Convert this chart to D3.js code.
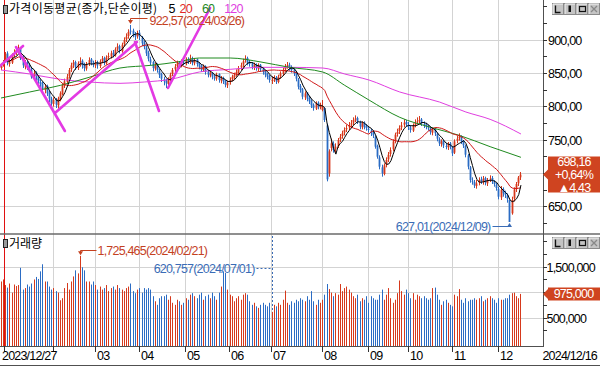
<!DOCTYPE html>
<html>
<head>
<meta charset="utf-8">
<script src="https://cdn.jsdelivr.net/npm/d3@7"></script>
<style>
  body { margin: 0; background: #fff; }
  svg { display: block; }
  .num { font-family: "Liberation Sans", Arial, sans-serif; font-size: 12.5px; letter-spacing: -0.8px; }
  .kr { font-family: "Noto Sans CJK KR", "Noto Sans", sans-serif; font-size: 12px; }
</style>
</head>
<body>
<div id="chart"></div>
<script>
// ---- daily candles, 2023/12/27 .. 2024/12/16 (trading days) ----
var opens = [858,862,
  868,880,864,866,879,881,886,888,874,860,867,861,856,846,851,842,837,835,825,831,821,812,
  804,811,802,811,819,831,837,846,856,863,867,858,866,869,863,857,865,871,865,
  862,867,861,869,873,865,875,875,881,877,887,891,883,894,901,906,914,914,907,906,
  911,904,896,889,881,871,867,857,863,854,849,841,839,834,841,849,856,861,866,861,869,
  865,871,867,873,865,871,865,861,855,861,853,847,851,844,842,849,839,843,839,832,
  837,841,844,849,851,859,863,870,873,867,865,859,863,857,863,857,853,849,846,
  839,841,844,837,846,849,856,861,863,859,856,851,841,831,826,814,821,813,809,803,797,806,799,
  795,798,772,700,738,744,736,741,751,756,761,766,769,773,776,781,783,777,769,776,771,
  767,764,761,755,741,724,709,699,713,721,729,736,749,759,763,769,773,777,
  773,769,764,773,777,779,781,774,773,769,767,761,766,759,751,744,749,741,739,745,
  739,731,749,753,754,747,741,727,709,689,687,681,686,691,687,693,685,691,693,687,683,
  677,664,676,671,667,660,640,662,677,685,694];
var highs = [865,870,
  882,883,872,880,886,890,893,889,876,870,869,865,858,855,853,846,841,838,834,833,824,815,
  814,813,815,823,835,842,849,858,866,870,869,868,874,871,866,867,874,873,869,
  870,869,871,876,875,877,881,884,885,889,895,893,896,904,910,916,922.57,917,912,914,
  915,906,899,892,884,875,869,866,865,857,851,845,842,844,851,858,864,869,868,871,872,
  874,874,878,875,873,872,867,863,863,862,855,854,852,848,851,850,846,845,840,839,
  844,848,851,856,861,866,872,877,875,870,867,866,865,865,864,859,855,851,848,
  845,847,846,848,853,858,864,867,866,862,858,853,843,834,828,823,822,816,811,805,808,808,806,
  810,799,775,736,752,748,745,753,759,764,769,773,777,780,784,787,785,779,778,778,774,
  771,767,764,757,743,727,713,715,724,732,739,751,761,767,772,777,781,780,
  777,772,775,781,784,786,783,778,776,773,770,768,768,761,754,751,750,745,747,747,
  741,751,756,760,757,750,743,729,711,694,690,690,694,695,696,695,693,697,696,690,686,
  680,681,679,674,670,661,665,679,687,696,702];
var lows = [855,860,
  866,862,860,864,874,877,880,870,858,856,855,852,842,841,836,833,829,822,820,816,807,799,
  800,798,797,808,817,828,834,842,852,858,855,855,860,857,853,854,861,862,859,
  858,857,858,865,862,863,871,872,874,875,883,880,881,890,897,902,908,904,900,902,
  900,891,886,876,868,862,853,854,851,843,837,832,828,831,838,846,852,857,858,859,862,
  862,864,864,862,862,860,856,852,852,848,844,844,841,839,839,836,835,834,829,828,
  833,838,841,845,849,855,859,866,862,860,856,855,854,853,852,848,844,841,836,
  834,837,834,835,842,846,852,857,854,851,846,838,826,821,811,810,808,804,798,794,795,796,796,
  793,777,688,695,733,731,731,738,747,752,757,762,765,769,772,777,774,766,766,766,764,
  761,756,753,737,722,706,695,697,709,717,725,733,745,755,759,765,769,770,
  765,761,762,769,773,775,771,768,766,764,758,757,756,748,741,740,738,736,735,736,
  726,729,745,749,744,738,724,706,686,683,678,677,682,684,683,682,681,687,684,680,674,
  661,660,665,663,656,627.01,638,658,672,681,690];
var closes = [862,867,
  879,866,867,878,880,885,887,873,862,866,860,857,845,850,840,838,834,826,830,820,812,805,
  810,803,812,820,832,838,845,855,862,866,860,865,868,862,858,864,870,866,863,
  866,862,868,872,866,874,876,880,878,886,890,884,893,900,905,912,913,908,905,910,
  905,895,890,880,872,866,858,862,855,848,842,838,835,840,848,855,860,865,862,868,866,
  870,868,872,866,870,864,860,856,860,852,848,850,845,843,848,840,842,838,833,836,
  840,845,848,852,858,862,868,872,866,864,860,862,858,862,856,852,848,845,840,
  840,843,838,845,850,855,860,862,858,855,850,842,830,825,815,820,812,808,802,798,805,800,803,
  800,780,691,733,745,735,740,750,755,760,765,768,772,775,780,782,778,770,775,770,768,
  765,760,757,740,725,710,700,712,720,728,735,748,758,762,768,772,776,774,
  770,765,772,776,778,780,775,772,770,768,762,765,760,752,745,748,742,740,744,740,
  730,748,752,755,748,742,728,710,690,688,682,685,690,688,692,686,690,692,688,684,678,
  665,675,670,668,662,627.01,660,676,684,693.73,698.16];
// volume in thousand shares
var volumesK = [1220,1260,
  1150,1100,1180,1000,1160,1130,1150,1490,1060,1090,1160,1120,1180,1260,1310,1270,1420,1560,1220,1220,1120,1060,
  1090,1030,1000,850,890,1090,1190,1060,1220,1320,1440,1380,1725.465,1500,1440,1220,1220,1160,1220,
  1150,1060,1120,1060,1090,1150,1030,1090,1120,1060,1150,1090,1060,1030,1090,1120,1180,1030,990,1060,
  1090,1000,1090,1060,1090,1060,930,830,760,890,930,930,960,860,930,800,760,860,830,760,800,
  890,860,960,990,930,890,960,1000,860,930,960,890,1000,930,860,1000,1120,1420,1390,1060,
  960,930,830,890,930,860,960,990,960,830,760,800,730,700,760,800,760,730,800,
  620.757,760,730,800,760,860,1040,800,760,830,800,860,830,890,860,830,930,860,1030,830,760,860,800,
  860,960,1170,1070,1000,930,990,960,1170,1030,1090,1120,1060,1000,930,890,960,830,890,860,930,
  800,930,890,860,860,960,1060,860,960,1090,890,800,860,990,1240,1030,960,1060,
  990,890,990,860,960,930,890,930,890,860,890,1090,1100,960,860,760,830,860,800,760,
  730,960,930,1070,860,800,890,830,860,860,890,860,890,930,830,860,890,930,890,860,800,
  890,860,860,890,890,960,990,1000,930,890,975];

// trading calendar
var firstDay = "2023-12-27", lastDay = "2024-12-16";
var holidays = ["2023-12-29","2024-01-01","2024-02-09","2024-02-12","2024-03-01","2024-04-10",
  "2024-05-01","2024-05-06","2024-05-15","2024-06-06","2024-08-15","2024-09-16","2024-09-17",
  "2024-09-18","2024-10-01","2024-10-03","2024-10-09"];

// moving averages (60 and 120 day)
var ma60Idx  = [0,13,27,40,54,68,80,90,104,118,131,146,156,167,181,195,208,222,236];
var ma60Val  = [813,822,832,844,858,862,867,873,873,867,859,852,832,810,784,769,757,740,724];
var ma120Idx = [0,13,27,40,54,65,77,90,104,118,131,146,156,167,181,199,211,222,236];
var ma120Val = [855,849,841,837,835,837,841,852,856,859,859,858,849,840,822,807,792,781,759];

// user trend lines: [idx0, value0, idx1, value1]
var trendLines = [[-0.5,861,10,891],[6.8,889.5,29,763.5],[24.5,790.5,61.7,897],[60.8,897,71.7,793.5],[75.8,828,94.9,948]];

var maLegend = ["5","20","60","120"];
var volMarkDate = "2024/07/01";
var priceLabels = [650,700,750,800,850,900];
var volLabels = [500000,1000000,1500000];

// ---- setup ----
var W = 600, H = 366, plotR = 543;
var UP = "#d6391c", DOWN = "#2b6cc4";
var GRID = "#d3d3d3";

var parse = d3.timeParse("%Y-%m-%d"), key = d3.timeFormat("%Y-%m-%d"), fmtDate = d3.timeFormat("%Y/%m/%d");
var hol = new Set(holidays);
var days = d3.timeDays(parse(firstDay), d3.timeDay.offset(parse(lastDay), 1))
  .filter(function(d){ return d.getDay() % 6 !== 0 && !hol.has(key(d)); });

var bars = closes.map(function(c, i){
  return {i: i, date: days[i], o: opens[i], h: highs[i], l: lows[i], c: c, v: volumesK[i] * 1000};
});
var n = bars.length;

var x = d3.scaleLinear().domain([0, 246]).range([1, plotR]);
var yP = d3.scaleLinear().domain([650, 900]).range([206.67, 40]);
var yV = d3.scaleLinear().domain([0, 1500000]).range([343.35, 267.3]);

var fmtP = function(v){ return d3.format(".2f")(v).replace(".", ","); };
var fmtV = d3.format(",");
var col = function(d){ return d.c >= d.o ? UP : DOWN; };
var px = function(v){ return Math.floor(v) + 0.5; };

var svg = d3.select("#chart").append("svg").attr("width", W).attr("height", H);
var defs = svg.append("defs");
defs.append("clipPath").attr("id", "clipP").append("rect").attr("x", 0).attr("y", 0).attr("width", plotR).attr("height", 233);
defs.append("clipPath").attr("id", "clipV").append("rect").attr("x", 0).attr("y", 235).attr("width", plotR).attr("height", 111);

// ---- grid ----
var grid = svg.append("g");
grid.selectAll("line.hp").data(priceLabels).enter().append("line")
  .attr("x1", 0).attr("x2", plotR).attr("y1", function(d){ return px(yP(d)); }).attr("y2", function(d){ return px(yP(d)); })
  .attr("stroke", GRID);
grid.selectAll("line.hv").data(volLabels).enter().append("line")
  .attr("x1", 0).attr("x2", plotR).attr("y1", function(d){ return px(yV(d)); }).attr("y2", function(d){ return px(yV(d)); })
  .attr("stroke", GRID);

var monthStarts = bars.filter(function(d, i){ return i > 0 && d.date.getMonth() !== bars[i-1].date.getMonth(); });
var gx = function(d){ return px(x(d.i - 0.25)); };
grid.selectAll("line.vm").data(monthStarts).enter().append("line")
  .attr("x1", gx).attr("x2", gx).attr("y1", 0).attr("y2", 346)
  .attr("stroke", function(d){ return d.date.getFullYear() !== bars[d.i-1].date.getFullYear() ? "#e01010" : GRID; });

// ---- price panel ----
var gP = svg.append("g").attr("clip-path", "url(#clipP)");
gP.selectAll("rect.wick").data(bars).enter().append("rect")
  .attr("x", function(d){ return Math.floor(x(d.i)); }).attr("width", 1)
  .attr("y", function(d){ return yP(d.h); })
  .attr("height", function(d){ return Math.max(1, yP(d.l) - yP(d.h)); })
  .attr("fill", col);
gP.selectAll("rect.body").data(bars).enter().append("rect")
  .attr("x", function(d){ return Math.floor(x(d.i)) - 0.4; }).attr("width", 1.8)
  .attr("y", function(d){ return yP(Math.max(d.o, d.c)); })
  .attr("height", function(d){ return Math.max(1, Math.abs(yP(d.o) - yP(d.c))); })
  .attr("fill", col);

function sma(arr, p){
  return arr.map(function(v, i){ return [i, d3.mean(arr.slice(Math.max(0, i - p + 1), i + 1))]; });
}
var line = d3.line().x(function(d){ return x(d[0]); }).y(function(d){ return yP(d[1]); });
var smooth = d3.line().x(function(d){ return x(d[0]); }).y(function(d){ return yP(d[1]); }).curve(d3.curveMonotoneX);
gP.append("path").attr("d", smooth(d3.zip(ma120Idx, ma120Val))).attr("fill", "none").attr("stroke", "#e03ee0").attr("stroke-width", 1);
gP.append("path").attr("d", smooth(d3.zip(ma60Idx, ma60Val))).attr("fill", "none").attr("stroke", "#1f8a1f").attr("stroke-width", 1);
gP.append("path").attr("d", line(sma(closes, 20))).attr("fill", "none").attr("stroke", "#d01818").attr("stroke-width", 1);
gP.append("path").attr("d", line(sma(closes, 5))).attr("fill", "none").attr("stroke", "#000").attr("stroke-width", 1);

gP.selectAll("line.trend").data(trendLines).enter().append("line")
  .attr("x1", function(d){ return x(d[0]); }).attr("y1", function(d){ return yP(d[1]); })
  .attr("x2", function(d){ return x(d[2]); }).attr("y2", function(d){ return yP(d[3]); })
  .attr("stroke", "#e33ae3").attr("stroke-width", 2.6).attr("stroke-linecap", "round");

// ---- volume panel ----
var gV = svg.append("g").attr("clip-path", "url(#clipV)");
gV.selectAll("rect.vol").data(bars).enter().append("rect")
  .attr("x", function(d){ return Math.floor(x(d.i)); }).attr("width", 1)
  .attr("y", function(d){ return yV(d.v); }).attr("height", function(d){ return yV(0) - yV(d.v) + 3; })
  .attr("fill", col);

// ---- frame ----
svg.append("line").attr("x1", 0).attr("x2", W).attr("y1", 234).attr("y2", 234).attr("stroke", "#6a6a6a").attr("stroke-width", 1.5);
svg.append("line").attr("x1", 0).attr("x2", plotR).attr("y1", 346.5).attr("y2", 346.5).attr("stroke", "#505050");
svg.append("line").attr("x1", 0).attr("x2", W).attr("y1", 365.5).attr("y2", 365.5).attr("stroke", "#505050");
svg.append("line").attr("x1", plotR + 0.5).attr("x2", plotR + 0.5).attr("y1", 0).attr("y2", 347).attr("stroke", "#505050");

// ---- right axes ----
var ax = svg.append("g");
ax.selectAll("line.tp").data(d3.range(625, 951, 25)).enter().append("line")
  .attr("x1", plotR).attr("x2", plotR + 4).attr("y1", function(d){ return px(yP(d)); }).attr("y2", function(d){ return px(yP(d)); })
  .attr("stroke", "#333");
ax.selectAll("line.tv").data(d3.range(250000, 2000001, 250000)).enter().append("line")
  .attr("x1", plotR).attr("x2", plotR + 4).attr("y1", function(d){ return px(yV(d)); }).attr("y2", function(d){ return px(yV(d)); })
  .attr("stroke", "#333");

var last = bars[n-1], prev = bars[n-2];
var lastY = yP(last.c), lastVY = yV(last.v);
ax.selectAll("text.lp").data(priceLabels.filter(function(d){ return Math.abs(yP(d) - lastY) > 22; })).enter().append("text")
  .attr("class", "num").attr("x", plotR + 5).attr("y", function(d){ return yP(d) + 4.5; })
  .text(function(d){ return fmtP(d); });
ax.selectAll("text.lv").data(volLabels.filter(function(d){ return Math.abs(yV(d) - lastVY) > 10; })).enter().append("text")
  .attr("class", "num").attr("x", plotR + 3.5).attr("y", function(d){ return yV(d) + 4.5; })
  .text(function(d){ return fmtV(d); });

// current value boxes
function tagBox(cy, h){
  var t = cy - h / 2, b = cy + h / 2;
  return [[plotR, cy], [plotR + 5, cy - 5], [plotR + 5, t], [W, t], [W, b], [plotR + 5, b], [plotR + 5, cy + 5]];
}
var chg = last.c - prev.c, pct = chg / prev.c * 100;
svg.append("polygon").attr("points", tagBox(lastY, 36).join(" ")).attr("fill", "#cf4420");
svg.selectAll("text.cur").data([fmtP(last.c), (pct >= 0 ? "+" : "") + fmtP(pct) + "%", (chg >= 0 ? "\u25B2" : "\u25BC") + fmtP(Math.abs(chg))])
  .enter().append("text").attr("class", "num").attr("fill", "#fff").attr("text-anchor", "middle")
  .attr("x", 574).attr("y", function(d, i){ return lastY - 13 + i * 12.8 + 4.5; }).text(function(d){ return d; });
svg.append("polygon").attr("points", tagBox(lastVY, 13).join(" ")).attr("fill", "#cf4420");
svg.append("text").attr("class", "num").attr("fill", "#fff").attr("text-anchor", "middle")
  .attr("x", 573.5).attr("y", lastVY + 4.5).text(fmtV(last.v));

// ---- x axis labels ----
var xl = svg.append("g");
xl.selectAll("line.tk").data(monthStarts).enter().append("line")
  .attr("x1", gx).attr("x2", gx).attr("y1", 346).attr("y2", 352).attr("stroke", "#333");
xl.append("text").attr("class", "num").attr("x", 2).attr("y", 360).text(fmtDate(bars[0].date));
xl.append("text").attr("class", "num").attr("x", 597).attr("y", 360).attr("text-anchor", "end").text(fmtDate(last.date));
xl.selectAll("text.m").data(monthStarts.filter(function(d){ return x(d.i) > 70; })).enter().append("text")
  .attr("class", "num").attr("x", function(d){ return gx(d) + 1.5; }).attr("y", 360)
  .text(function(d){ return d3.timeFormat("%m")(d.date); });

// ---- annotations ----
var ann = svg.append("g");
function arrowHead(g, cx, tipY, dir, color){
  g.append("path").attr("d", "M" + (cx - 2.5) + "," + (tipY - 4 * dir) + "L" + (cx + 2.5) + "," + (tipY - 4 * dir) + "L" + cx + "," + tipY + "Z").attr("fill", color);
}
var RED_T = "#c4411f", BLUE_T = "#3a6cb6";
// price high
var iHi = d3.maxIndex(highs), hx = px(x(iHi)), hy = yP(highs[iHi]);
ann.append("path").attr("d", "M" + (hx + 17) + "," + px(hy - 6) + "H" + hx + "V" + (hy - 3)).attr("stroke", RED_T).attr("fill", "none");
arrowHead(ann, hx, hy - 1, 1, RED_T);
ann.append("text").attr("class", "num").attr("fill", RED_T).attr("x", hx + 19).attr("y", hy - 5 + 4.6)
  .text(fmtP(highs[iHi]) + "(" + fmtDate(bars[iHi].date) + ")");
// price low
var iLo = d3.minIndex(lows), lx = px(x(iLo)), ly = yP(lows[iLo]);
ann.append("path").attr("d", "M" + (lx - 17) + "," + px(ly + 5) + "H" + lx + "V" + (ly + 3)).attr("stroke", BLUE_T).attr("fill", "none");
arrowHead(ann, lx, ly + 1, -1, BLUE_T);
ann.append("text").attr("class", "num").attr("fill", BLUE_T).attr("text-anchor", "end").attr("x", lx - 19).attr("y", ly + 5 + 4.5)
  .text(fmtP(lows[iLo]) + "(" + fmtDate(bars[iLo].date) + ")");
// volume max
var iVm = d3.maxIndex(bars, function(d){ return d.v; }), vx = px(x(iVm)), vy = yV(bars[iVm].v);
ann.append("path").attr("d", "M" + (vx + 16) + "," + px(vy - 5) + "H" + vx + "V" + (vy - 3)).attr("stroke", RED_T).attr("fill", "none");
arrowHead(ann, vx, vy - 0.5, 1, RED_T);
ann.append("text").attr("class", "num").attr("fill", RED_T).attr("x", vx + 17).attr("y", vy - 5 + 4.5)
  .text(fmtV(Math.round(bars[iVm].v)) + "(" + fmtDate(bars[iVm].date) + ")");
// volume mark
var iMk = bars.findIndex(function(d){ return fmtDate(d.date) === volMarkDate; });
var mx = px(x(iMk)), my = 268.5;
ann.append("path").attr("d", "M" + (mx - 16) + "," + my + "H" + mx + "M" + mx + ",236V" + yV(bars[iMk].v))
  .attr("stroke", BLUE_T).attr("fill", "none").attr("stroke-dasharray", "2,2");
ann.append("text").attr("class", "num").attr("fill", BLUE_T).attr("text-anchor", "end").attr("x", mx - 18).attr("y", my + 4.5)
  .text(fmtV(Math.round(bars[iMk].v)) + "(" + fmtDate(bars[iMk].date) + ")");

// ---- panel titles ----
function icon(y0){
  svg.append("rect").attr("x", 3.5).attr("y", y0 + 0.5).attr("width", 4).attr("height", 8).attr("fill", "#9a9a9a").attr("stroke", "#222");
}
icon(5);
var t1 = svg.append("text").attr("class", "kr").attr("x", 9).attr("y", 13).attr("letter-spacing", "0.3").text("가격이동평균(종가,단순이평)");
var legCol = ["#000", "#e02828", "#1f8a1f", "#e03ee0"];
var legGap = [11, 5, 10, 10];
var legX = 9 + t1.node().getComputedTextLength();
maLegend.forEach(function(s, i){
  legX += legGap[i];
  var t = svg.append("text").attr("class", "num").attr("x", legX).attr("y", 13).attr("fill", legCol[i]).text(s);
  legX += t.node().getComputedTextLength();
});
icon(239);
svg.append("text").attr("class", "kr").attr("x", 9).attr("y", 248).text("거래량");

// ---- window buttons ----
function buttons(y0){
  var g = svg.append("g").attr("transform", "translate(552," + y0 + ")");
  [0, 12, 24, 36].forEach(function(bx){
    g.append("rect").attr("x", bx + 0.5).attr("y", 0.5).attr("width", 11).attr("height", 11).attr("fill", "#c4c4c4").attr("stroke", "#8a8a8a");
    g.append("path").attr("d", "M" + (bx + 1) + ",11V1H" + (bx + 11)).attr("stroke", "#f4f4f4").attr("fill", "none");
  });
  g.append("path").attr("d", "M3.5,2.5V9.5H8.5").attr("stroke", "#111").attr("fill", "none").attr("stroke-width", 1.3);
  g.append("rect").attr("x", 16.5).attr("y", 2.5).attr("width", 2.5).attr("height", 6.5).attr("fill", "#111");
  g.append("rect").attr("x", 27.5).attr("y", 3.5).attr("width", 6).attr("height", 5).attr("fill", "none").attr("stroke", "#111").attr("stroke-width", 1.2);
  g.append("path").attr("d", "M39,3L45,9M45,3L39,9").attr("stroke", "#888").attr("stroke-width", 1.3);
}
buttons(3);
buttons(237);
</script>
</body>
</html>
